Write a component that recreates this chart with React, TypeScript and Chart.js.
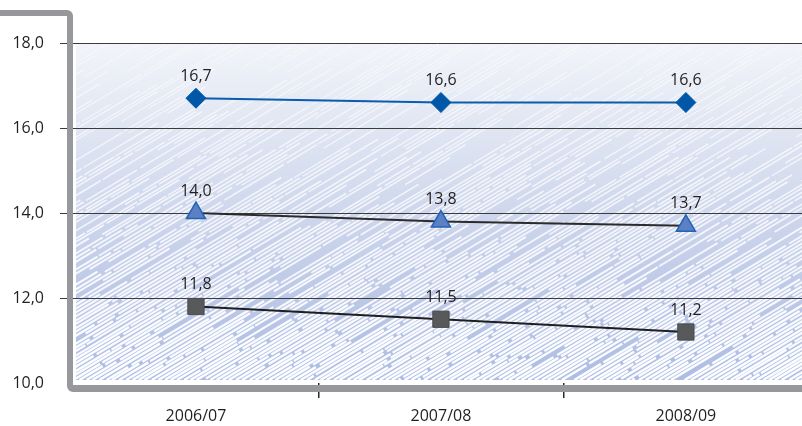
import React, { useEffect, useRef } from 'react';
import { Chart, registerables } from 'chart.js';

Chart.register(...registerables);

// ---- data ----
const categories = ['2006/07', '2007/08', '2008/09'];
const seriesDiamond = [16.7, 16.6, 16.6];
const seriesTriangle = [14.0, 13.8, 13.7];
const seriesSquare = [11.8, 11.5, 11.2];
const yMin = 10;
const yMax = 18;
const yStep = 2;

const FONT = '"Open Sans", "Noto Sans", "DejaVu Sans", sans-serif';
const TEXT = '#231f20';
const FRAME = '#96989b';

const fmt = (v: number) => v.toFixed(1).replace('.', ',');

// deterministic texture helper (decoration only)
function hs(i: number) {
  const s = Math.sin(i * 12.9898 + 78.233) * 43758.5453;
  return s - Math.floor(s);
}

const hatchPlugin = {
  id: 'hatchBg',
  beforeDraw(chart: any) {
    const { ctx, chartArea: a } = chart;
    const L = a.left + 3;
    const R = a.right;
    const T = a.top;
    const B = a.bottom - 3;
    ctx.save();
    ctx.beginPath();
    ctx.rect(L, T, R - L, B - T);
    ctx.clip();
    const g = ctx.createLinearGradient(0, T, 0, B);
    g.addColorStop(0, '#f2f4f9');
    g.addColorStop(0.35, '#d9e0f0');
    g.addColorStop(0.7, '#c0cbe8');
    g.addColorStop(1, '#adbde4');
    ctx.fillStyle = g;
    ctx.fillRect(L, T, R - L, B - T);

    const slope = 0.6;
    const H = B - T;
    const span = H / slope;
    ctx.strokeStyle = '#ffffff';
    ctx.lineCap = 'butt';
    let i = 0;
    let seed = 1;
    for (let c = L - span - 20; c < R + 20; c += 6.5, i++) {
      const x0 = c + hs(i * 11 + 4) * 1.5;
      let t = -hs(i * 5 + 3) * 40;
      while (t < span) {
        const len = 25 + hs(seed++) * 70;
        const gap = 1 + hs(seed++) * 3;
        const ta = Math.max(t, 0);
        const tb = Math.min(t + len, span);
        if (tb > ta) {
          const ym = B - ((ta + tb) / 2) * slope;
          const f = (ym - T) / H; // 0 top .. 1 bottom
          if (hs(seed++) < 0.45 + 0.55 * f) {
            ctx.lineWidth = 0.8 + 1.7 * f;
            ctx.globalAlpha = 0.55 + 0.45 * f;
            ctx.beginPath();
            ctx.moveTo(x0 + ta, B - ta * slope);
            ctx.lineTo(x0 + tb, B - tb * slope);
            ctx.stroke();
          }
        }
        t += len + gap;
      }
    }
    ctx.restore();
  },
};

const framePlugin = {
  id: 'frame',
  beforeDatasetsDraw(chart: any) {
    const { ctx, chartArea: a } = chart;
    const xi = a.left - 6;
    const xo = a.left;
    const yt = 10;
    const yb0 = a.bottom + 2;
    const yb1 = yb0 + 7;
    const r = 6;
    ctx.save();
    ctx.fillStyle = FRAME;
    ctx.beginPath();
    ctx.moveTo(0, yt);
    ctx.lineTo(xi, yt);
    ctx.arcTo(xo, yt, xo, yt + r, r);
    ctx.lineTo(xo, yb0);
    ctx.lineTo(chart.width, yb0);
    ctx.lineTo(chart.width, yb1);
    ctx.lineTo(xo, yb1);
    ctx.arcTo(xi, yb1, xi, yb1 - r, r);
    ctx.lineTo(xi, yt + 6);
    ctx.lineTo(0, yt + 6);
    ctx.closePath();
    ctx.fill();
    ctx.restore();
  },
};

const labelPlugin = {
  id: 'pointLabels',
  afterDatasetsDraw(chart: any) {
    const { ctx } = chart;
    ctx.save();
    ctx.font = `16px ${FONT}`;
    ctx.fillStyle = TEXT;
    ctx.textAlign = 'center';
    ctx.textBaseline = 'middle';
    chart.data.datasets.forEach((ds: any, di: number) => {
      const meta = chart.getDatasetMeta(di);
      meta.data.forEach((pt: any, i: number) => {
        const v = ds.data[i].y;
        ctx.fillText(fmt(v), pt.x, pt.y - 22);
      });
    });
    ctx.restore();
  },
};

const toPoints = (arr: number[]) => arr.map((y, i) => ({ x: i, y }));

export default function App() {
  const ref = useRef<HTMLCanvasElement | null>(null);
  useEffect(() => {
    if (!ref.current) return;
    const chart = new Chart(ref.current, {
      type: 'line',
      data: {
        datasets: [
          {
            data: toPoints(seriesDiamond),
            borderColor: '#0b5cad',
            borderWidth: 2,
            backgroundColor: '#0057a8',
            pointStyle: 'rectRot',
            pointRadius: 10,
            pointBorderWidth: 1,
            pointBorderColor: '#0057a8',
            pointBackgroundColor: '#0057a8',
          },
          {
            data: toPoints(seriesTriangle),
            borderColor: '#2b2b2b',
            borderWidth: 2,
            pointStyle: 'triangle',
            pointRadius: 11,
            pointBorderWidth: 1.5,
            pointBorderColor: '#2563b3',
            pointBackgroundColor: '#5c80c6',
          },
          {
            data: toPoints(seriesSquare),
            borderColor: '#1e1e1e',
            borderWidth: 2,
            pointStyle: 'rect',
            pointRadius: 11.5,
            pointBorderWidth: 1,
            pointBorderColor: '#4a4b4d',
            pointBackgroundColor: '#58595b',
          },
        ] as any,
      },
      options: {
        animation: false,
        responsive: false,
        devicePixelRatio: 1,
        events: [],
        layout: {
          autoPadding: false,
          padding: { top: 43, left: 0, right: 0, bottom: 0 },
        },
        plugins: {
          legend: { display: false },
          tooltip: { enabled: false },
        },
        scales: {
          x: {
            type: 'linear',
            position: 'bottom',
            min: -0.502,
            max: 2.474,
            z: 1,
            afterBuildTicks: (scale: any) => {
              scale.ticks = [0, 0.5, 1, 1.5, 2].map((value) => ({ value }));
            },
            afterFit: (scale: any) => {
              scale.height = 43;
              scale.paddingLeft = 0;
              scale.paddingRight = 0;
            },
            border: { display: false },
            grid: {
              drawOnChartArea: false,
              drawTicks: true,
              tickLength: 15,
              lineWidth: 1.5,
              color: (c: any) =>
                c.tick && c.tick.value % 1 !== 0 ? '#2a2a2a' : 'rgba(0,0,0,0)',
            },
            ticks: {
              autoSkip: false,
              maxRotation: 0,
              padding: 9,
              color: TEXT,
              font: { family: FONT, size: 16 },
              callback: (v: any) =>
                Number.isInteger(v) ? categories[v] ?? '' : '',
            },
          },
          y: {
            min: yMin,
            max: yMax,
            afterFit: (scale: any) => {
              scale.width = 73;
            },
            border: { display: false },
            grid: {
              color: (c: any) =>
                c.tick && c.tick.value === yMin ? 'rgba(0,0,0,0)' : '#3c3c3c',
              lineWidth: 1,
              tickLength: 13,
            },
            ticks: {
              stepSize: yStep,
              padding: 16,
              color: TEXT,
              font: { family: FONT, size: 16 },
              callback: (v: any) => fmt(Number(v)),
            },
          },
        },
      },
      plugins: [hatchPlugin, framePlugin, labelPlugin],
    } as any);
    return () => chart.destroy();
  }, []);
  return (
    <div
      style={{
        position: 'fixed',
        left: 0,
        top: 0,
        width: 802,
        height: 426,
        background: '#ffffff',
      }}
    >
      <canvas ref={ref} width={802} height={426} style={{ display: 'block' }} />
    </div>
  );
}
